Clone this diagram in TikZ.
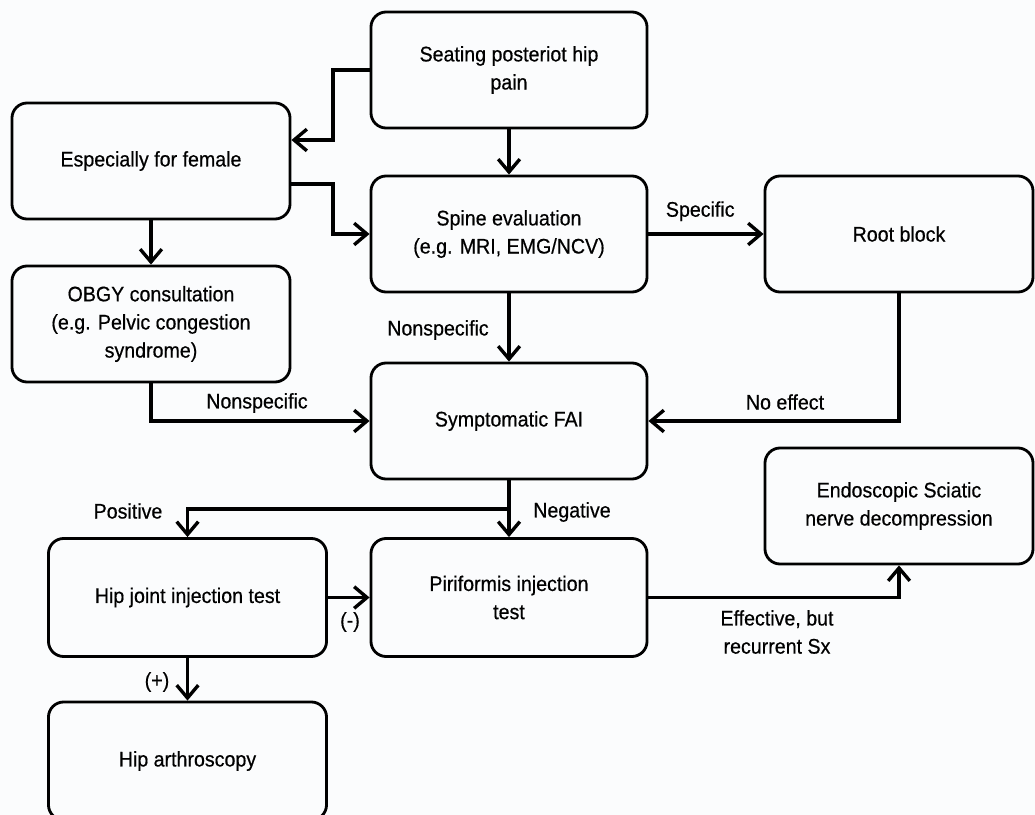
\documentclass[tikz,border=0pt]{standalone}
\usepackage{fontspec}
\setmainfont[FakeStretch=0.93,FakeBold=0.5]{Liberation Sans}
\usetikzlibrary{arrows.meta}
\definecolor{bg}{RGB}{251,252,253}
\begin{document}
\begin{tikzpicture}[x=0.025cm,y=-0.025cm,
  box/.style={draw, line width=2pt, rounded corners=0.38cm, fill=bg, align=center,
    inner sep=0pt, minimum width=6.9cm, minimum height=2.9cm,
    font=\fontsize{15}{20}\selectfont},
  arr/.style={line width=2.4pt, -{Straight Barb[length=3.2mm,width=5.4mm,line width=2.4pt]}},
  lab/.style={font=\fontsize{15}{20}\selectfont, align=center, inner sep=0pt}]
\clip (0,0) rectangle (1035,815);
\fill[bg] (0,0) rectangle (1035,815);

\node[box] (seat) at (509,70) {Seating posteriot hip\\pain};
\node[box, minimum width=6.95cm] (female) at (151,161) {Especially for female};
\node[box] (spine) at (509,234) {Spine evaluation\\(e.g. MRI, EMG/NCV)};
\node[box, minimum width=6.7cm] (root) at (899,234) {Root block};
\node[box, minimum width=6.95cm] (obgy) at (151,324) {OBGY consultation\\(e.g. Pelvic congestion\\syndrome)};
\node[box] (fai) at (509,421) {Symptomatic FAI};
\node[box, minimum width=6.95cm, minimum height=2.95cm] (hipinj) at (187.5,597.5) {Hip joint injection test};
\node[box, minimum height=2.95cm] (pirif) at (509,597.5) {Piriformis injection\\test};
\node[box, minimum width=6.7cm] (endo) at (899,506) {Endoscopic Sciatic\\nerve decompression};
\node[box, minimum width=6.95cm, minimum height=2.95cm] (arthro) at (187.5,761) {Hip arthroscopy};

\coordinate (c1) at (333,70);
\coordinate (c2) at (333,184);
\coordinate (br) at (509,509);

\draw[arr] (seat.west) -- (c1) |- (female.east |- 0,140);
\draw[arr] (seat.south) -- (spine.north);
\draw[arr] (female.east |- c2) -- (c2) |- (spine.west);
\draw[arr] (female.south) -- (obgy.north);
\draw[arr] (spine.east) -- node[lab, above=8pt, pos=0.45] (l1) {Specific} (root.west);
\draw[arr] (spine.south) -- (fai.north);
\node[lab] (l2) at (438,330) {Nonspecific};
\draw[arr] (obgy.south) |- (fai.west);
\node[lab] (l3) at (257,403) {Nonspecific};
\draw[arr] (root.south) |- (fai.east);
\node[lab] (l4) at (785,402) {No effect};
\draw[arr] (fai.south) -- (pirif.north);
\draw[arr] (br) -| (hipinj.north);
\node[lab] (l5) at (128,511) {Positive};
\node[lab] (l6) at (572,512) {Negative};
\draw[arr] (hipinj.east) -- (pirif.west);
\node[lab] (l7) at (350,622) {(-)};
\draw[arr] (hipinj.south) -- (arthro.north);
\node[lab] (l8) at (157,682) {(+)};
\draw[arr] (pirif.east) -| (endo.south);
\node[lab] (l9) at (777,632) {Effective, but\\recurrent Sx};
\end{tikzpicture}
\end{document}
